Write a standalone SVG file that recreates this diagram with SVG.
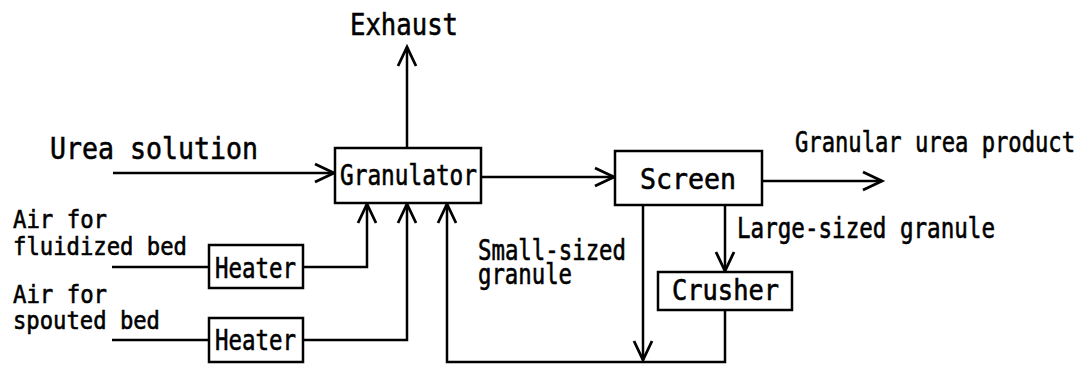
<svg xmlns="http://www.w3.org/2000/svg" width="1090" height="365" viewBox="0 0 1090 365">
<style>
.box{fill:#fff;stroke:#000;stroke-width:2.5}
.ln{fill:none;stroke:#000;stroke-width:2.5}
.ar{marker-end:url(#arr)}
text{font-family:"DejaVu Sans Mono","Liberation Mono",monospace;fill:#000;stroke:#000;stroke-width:0.6}
.big{font-size:31px}
.mid{font-size:28px}
.sm{font-size:25px}
</style>
<defs>
<marker id="arr" markerUnits="userSpaceOnUse" viewBox="-22 -12 24 24" refX="0" refY="0" markerWidth="24" markerHeight="24" orient="auto" overflow="visible">
<path d="M-19,-9 L0,0 L-19,9" fill="none" stroke="#000" stroke-width="2.8"/>
</marker>
</defs>
<rect width="1090" height="365" fill="#fff"/>
<g id="connectors">
<path class="ln ar" d="M113,173 H334"/>
<path class="ln ar" d="M407,148 V47"/>
<path class="ln ar" d="M481,177 H614"/>
<path class="ln ar" d="M762,181 H882"/>
<path class="ln" d="M112,267 H209"/>
<path class="ln" d="M112,340 H209"/>
<path class="ln ar" d="M303,267 H367 V204"/>
<path class="ln ar" d="M303,340 H407 V204"/>
<path class="ln ar" d="M725,310 V362 H447 V204"/>
<path class="ln ar" d="M643,205 V360"/>
<path class="ln ar" d="M725,205 V271"/>
</g>
<g id="granulator">
<rect class="box" x="335" y="148" width="146" height="55"/>
<text class="mid" x="340" y="185" textLength="137" lengthAdjust="spacingAndGlyphs">Granulator</text>
</g>
<g id="screen">
<rect class="box" x="615" y="151" width="147" height="54"/>
<text class="mid" x="640" y="189" textLength="96" lengthAdjust="spacingAndGlyphs">Screen</text>
</g>
<g id="crusher">
<rect class="box" x="658" y="272" width="134" height="38"/>
<text class="mid" x="672" y="300" textLength="107" lengthAdjust="spacingAndGlyphs">Crusher</text>
</g>
<g id="heater1">
<rect class="box" x="209" y="245" width="94" height="43"/>
<text class="mid" x="215" y="278" textLength="81" lengthAdjust="spacingAndGlyphs">Heater</text>
</g>
<g id="heater2">
<rect class="box" x="209" y="318" width="94" height="44"/>
<text class="mid" x="215" y="350" textLength="81" lengthAdjust="spacingAndGlyphs">Heater</text>
</g>
<g id="labels">
<text class="big" x="350" y="35" textLength="108" lengthAdjust="spacingAndGlyphs">Exhaust</text>
<text class="big" x="50" y="159" textLength="208" lengthAdjust="spacingAndGlyphs">Urea solution</text>
<text class="sm" x="13" y="228" textLength="94" lengthAdjust="spacingAndGlyphs">Air for</text>
<text class="sm" x="13" y="255" textLength="174" lengthAdjust="spacingAndGlyphs">fluidized bed</text>
<text class="sm" x="13" y="303" textLength="94" lengthAdjust="spacingAndGlyphs">Air for</text>
<text class="sm" x="13" y="329" textLength="147" lengthAdjust="spacingAndGlyphs">spouted bed</text>
<text class="mid" x="478" y="260" textLength="148" lengthAdjust="spacingAndGlyphs">Small-sized</text>
<text class="mid" x="478" y="284" textLength="94" lengthAdjust="spacingAndGlyphs">granule</text>
<text class="mid" x="795" y="152" textLength="280" lengthAdjust="spacingAndGlyphs">Granular urea product</text>
<text class="mid" x="737" y="238" textLength="258" lengthAdjust="spacingAndGlyphs">Large-sized granule</text>
</g>
</svg>
